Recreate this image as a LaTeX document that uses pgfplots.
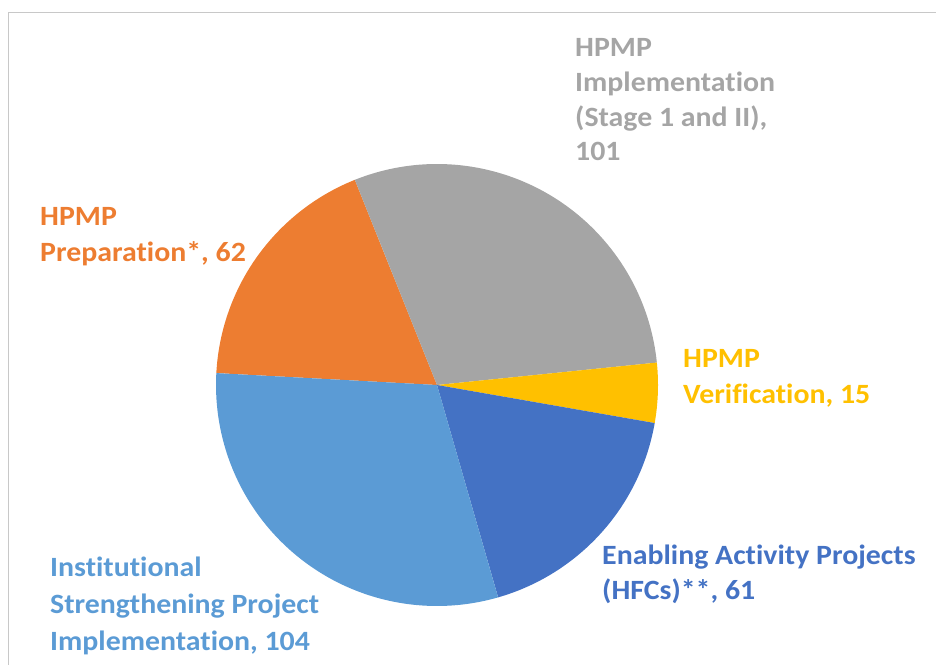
\documentclass[border=0pt]{standalone}
\usepackage{pgfplots}
\pgfplotsset{compat=1.18}
\usepackage{pgfplotstable}
\usepackage{fontspec}
\setmainfont{Carlito}
\newfontfamily\labfont[FakeStretch=1.07,Ligatures=NoCommon]{Carlito}
\definecolor{cLBlue}{HTML}{5B9BD5}
\definecolor{cOrange}{HTML}{ED7D31}
\definecolor{cGray}{HTML}{A5A5A5}
\definecolor{cGold}{HTML}{FFC000}
\definecolor{cDBlue}{HTML}{4472C4}
\definecolor{cFrame}{HTML}{C8C8C8}
\pgfplotstableread{
name value
Preparation 62
Implementation 101
Verification 15
Enabling 61
Institutional 104
}\piedata
\newcommand\lab[4]{\node[anchor=base west,inner sep=0pt,text=#1,font=\labfont\fontsize{28}{34}\selectfont\bfseries] at (axis cs:#2,{665-#3}) {#4};}
\begin{document}
\begin{tikzpicture}
\pgfplotstablegetelem{0}{value}\of\piedata\pgfmathsetmacro\vA{\pgfplotsretval}
\pgfplotstablegetelem{1}{value}\of\piedata\pgfmathsetmacro\vB{\pgfplotsretval}
\pgfplotstablegetelem{2}{value}\of\piedata\pgfmathsetmacro\vC{\pgfplotsretval}
\pgfplotstablegetelem{3}{value}\of\piedata\pgfmathsetmacro\vD{\pgfplotsretval}
\pgfplotstablegetelem{4}{value}\of\piedata\pgfmathsetmacro\vE{\pgfplotsretval}
\pgfmathsetmacro\tot{\vA+\vB+\vC+\vD+\vE}
\pgfmathsetmacro\aA{176.9}
\pgfmathsetmacro\aB{\aA-\vA/\tot*360}
\pgfmathsetmacro\aC{\aB-\vB/\tot*360}
\pgfmathsetmacro\aD{\aC-\vC/\tot*360}
\pgfmathsetmacro\aE{\aD-\vD/\tot*360}
\pgfmathsetmacro\aF{\aE-\vE/\tot*360}
\begin{axis}[
  width=936bp, height=665bp, scale only axis,
  xmin=0, xmax=936, ymin=0, ymax=665,
  hide axis, clip=false,
]
\draw[cFrame, line width=1bp] (axis cs:8,0) -- (axis cs:8,652.5) -- (axis cs:936,652.5);
\addplot[fill=cOrange, draw=none, domain=\aB:\aA, samples=80, variable=\t] ({437+221*cos(\t)},{280+221*sin(\t)}) -- (axis cs:437,280) -- cycle;
\addplot[fill=cGray, draw=none, domain=\aC:\aB, samples=80, variable=\t] ({437+221*cos(\t)},{280+221*sin(\t)}) -- (axis cs:437,280) -- cycle;
\addplot[fill=cGold, draw=none, domain=\aD:\aC, samples=30, variable=\t] ({437+221*cos(\t)},{280+221*sin(\t)}) -- (axis cs:437,280) -- cycle;
\addplot[fill=cDBlue, draw=none, domain=\aE:\aD, samples=80, variable=\t] ({437+221*cos(\t)},{280+221*sin(\t)}) -- (axis cs:437,280) -- cycle;
\addplot[fill=cLBlue, draw=none, domain=\aF:\aE, samples=100, variable=\t] ({437+221*cos(\t)},{280+221*sin(\t)}) -- (axis cs:437,280) -- cycle;
\lab{cGray}{575}{57}{HPMP}
\lab{cGray}{575}{92}{Implementation}
\lab{cGray}{575}{127}{(Stage 1 and II),}
\lab{cGray}{575}{161}{101}
\lab{cOrange}{40}{226}{HPMP}
\lab{cOrange}{40}{262}{Preparation*, 62}
\lab{cGold}{683}{368}{HPMP}
\lab{cGold}{683}{404}{Verification, 15}
\lab{cDBlue}{602}{565}{Enabling Activity Projects}
\lab{cDBlue}{602}{600}{(HFCs)**, 61}
\lab{cLBlue}{50}{577}{Institutional}
\lab{cLBlue}{50}{613.5}{Strengthening Project}
\lab{cLBlue}{50}{650}{Implementation, 104}
\end{axis}
\pgfresetboundingbox
\path[use as bounding box] (current axis.south west) rectangle (current axis.north east);
\end{tikzpicture}
\end{document}
